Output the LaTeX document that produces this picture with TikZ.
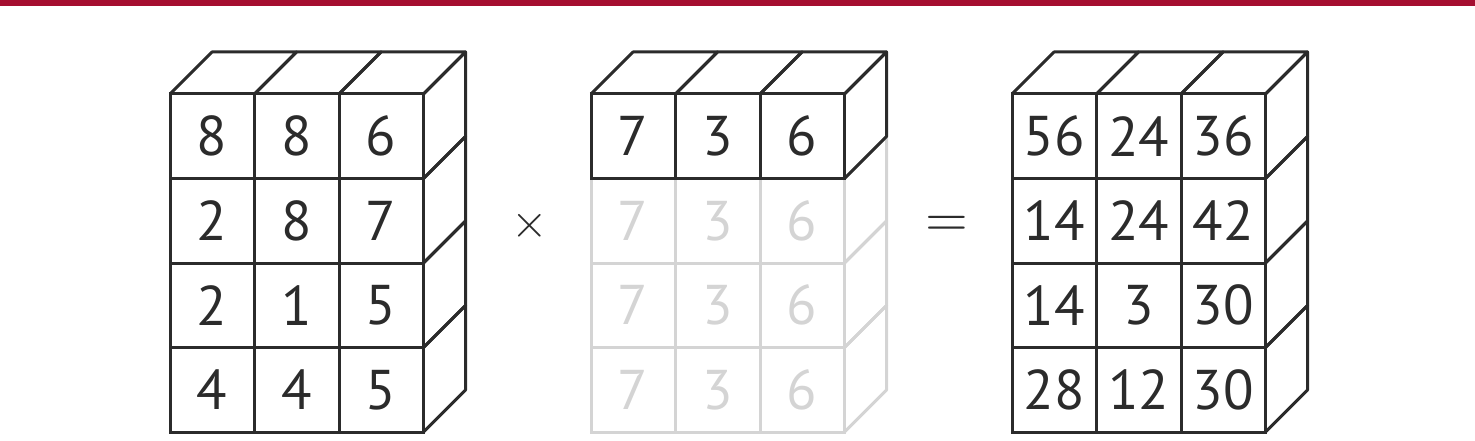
\documentclass[tikz,border=0pt]{standalone}
\usepackage{graphicx}
\usepackage{fontspec}
\setmainfont{PT Sans}
\definecolor{ink}{HTML}{2B2B2B}
\definecolor{faint}{HTML}{D4D4D4}
\definecolor{crimson}{HTML}{A50E30}
\tikzset{
  cell/.style={draw=ink, line width=3pt, minimum width=84.5pt, minimum height=84.5pt,
    inner sep=0pt, outer sep=0pt, font=\fontsize{56}{62}\selectfont, text=ink},
  ghost/.style={cell, draw=faint, text=faint},
  face/.style={draw=ink, line width=3pt, line join=round},
  ghostface/.style={face, draw=faint},
  op/.style={text=ink, inner sep=0pt},
}
\begin{document}
\begin{tikzpicture}[x=1pt,y=-1pt]
\useasboundingbox (0,0) rectangle (1475,441);
\fill[crimson] (0,0) rectangle (1475,6);
\def\c{84.5}
\def\d{42}
% ---------- left block ----------
\def\X{170}\def\Y{94}
\foreach \j in {0,1,2}
  \draw[face] (\X+\c*\j,\Y) -- ++(\d,-\d) -- ++(\c,0) -- ++(-\d,\d);
\foreach \i in {0,1,2,3}
  \draw[face] (\X+3*\c,\Y+\c*\i) -- ++(\d,-\d) -- ++(0,\c) -- ++(-\d,\d);
\foreach \i/\row in {0/{8,8,6},1/{2,8,7},2/{2,1,5},3/{4,4,5}}
  \foreach \v [count=\j from 0] in \row
    \node[cell] (A-\i-\j) at (\X+\c*\j+\c/2,\Y+\c*\i+\c/2) {\v};
% ---------- middle block ----------
\def\X{591}
\foreach \i in {1,2,3}
  \draw[ghostface] (\X+3*\c,\Y+\c*\i) -- ++(\d,-\d) -- ++(0,\c) -- ++(-\d,\d);
\foreach \i in {1,2,3}
  \foreach \v [count=\j from 0] in {7,3,6}
    \node[ghost] (B-\i-\j) at (\X+\c*\j+\c/2,\Y+\c*\i+\c/2) {\v};
\foreach \j in {0,1,2}
  \draw[face] (\X+\c*\j,\Y) -- ++(\d,-\d) -- ++(\c,0) -- ++(-\d,\d);
\draw[face] (\X+3*\c,\Y) -- ++(\d,-\d) -- ++(0,\c) -- ++(-\d,\d);
\foreach \v [count=\j from 0] in {7,3,6}
  \node[cell] (B-0-\j) at (\X+\c*\j+\c/2,\Y+\c/2) {\v};
% ---------- right block ----------
\def\X{1012}
\foreach \j in {0,1,2}
  \draw[face] (\X+\c*\j,\Y) -- ++(\d,-\d) -- ++(\c,0) -- ++(-\d,\d);
\foreach \i in {0,1,2,3}
  \draw[face] (\X+3*\c,\Y+\c*\i) -- ++(\d,-\d) -- ++(0,\c) -- ++(-\d,\d);
\foreach \i/\row in {0/{56,24,36},1/{14,24,42},2/{14,3,30},3/{28,12,30}}
  \foreach \v [count=\j from 0] in \row
    \node[cell] (C-\i-\j) at (\X+\c*\j+\c/2,\Y+\c*\i+\c/2) {\v};
% ---------- operators ----------
\node[op] (times) at (530,226) {\scalebox{4.7}{$\times$}};
\node[op] (eq) at (947,226) {\scalebox{5.5}{$=$}};
\end{tikzpicture}
\end{document}
